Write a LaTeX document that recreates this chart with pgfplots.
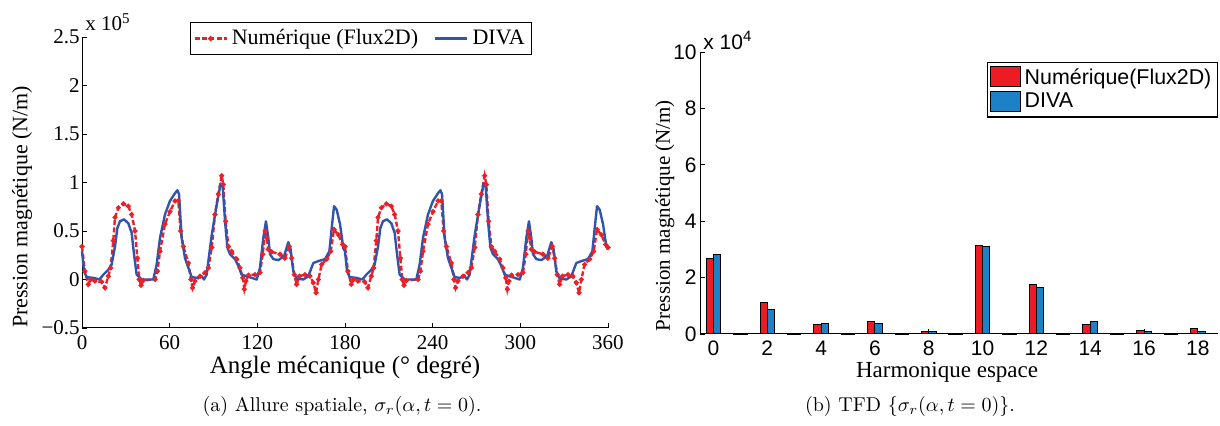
\documentclass[border=0pt]{standalone}
\usepackage{pgfplots}
\pgfplotsset{compat=1.18}
\usepackage{fontspec}
\newfontfamily\tnr{Liberation Serif}
\newfontfamily\ars{Liberation Sans}
\definecolor{numred}{RGB}{235,32,40}
\definecolor{divablue}{RGB}{50,84,170}
\definecolor{barred}{RGB}{237,28,36}
\definecolor{barblue}{RGB}{28,129,199}
\begin{document}
\begin{tikzpicture}
\useasboundingbox (0,0) rectangle (610pt,213pt);
\begin{axis}[
  at={(41pt,49pt)}, anchor=south west,
  scale only axis, width=263pt, height=145.5pt,
  xmin=0, xmax=360, ymin=-0.5, ymax=2.5,
  clip=false,
  axis x line*=bottom, axis y line*=left,
  axis line style={line width=0.5pt},
  tick align=inside, major tick length=2.5pt,
  tick style={black, line width=0.4pt},
  xtick={0,60,...,360},
  ytick={-0.5,0,0.5,1,1.5,2,2.5},
  yticklabels={−0.5,0,0.5,1,1.5,2,2.5},
  /pgf/number format/assume math mode=true,
  ticklabel style={font=\tnr\fontsize{10.5}{12}\selectfont},
  yticklabel style={inner sep=1pt},
  xlabel={Angle mécanique (° degré)},
  ylabel={Pression magnétique (N/m)},
  xlabel style={font=\tnr\fontsize{12.5}{14}\selectfont, at={(axis description cs:0.5,-0.137)}, anchor=center},
  ylabel style={font=\tnr\fontsize{11}{13}\selectfont, at={(axis description cs:-0.114,0.416)}, anchor=center},
  legend columns=2,
  legend style={at={(axis description cs:0.205,1.052)}, anchor=north west,
    font=\tnr\fontsize{11}{13}\selectfont, draw=black, line width=0.6pt,
    inner sep=1.5pt, /tikz/every even column/.append style={column sep=6pt}},
  legend image code/.code={\draw[#1,mark repeat=2,mark phase=2] plot coordinates {(0pt,0pt)(8pt,0pt)(16pt,0pt)};},
]
\addplot[color=numred, line width=1.2pt, dash pattern=on 2.5pt off 1.2pt, mark=*, mark size=0.55pt, mark options={solid}] coordinates {
(0,0.34) (2,0.086) (4.3,-0.05) (5.9,0.0) (8.9,-0.017) (13.5,-0.024) (15.7,-0.086) (18,0.034) (19.6,0.12) (21.4,0.40) (22.6,0.64) (24.9,0.74) (28.3,0.78) (31.7,0.756) (34,0.67) (36.3,0.50) (37.9,0.22) (39.2,0.0) (40.4,-0.06) (42,-0.01) (50,0.0) (51.6,0.086) (53.4,0.29) (56.8,0.57) (60.2,0.70) (63.7,0.81) (65.9,0.81) (67.5,0.50) (69.4,0.34) (72.8,0.17) (74.6,0.0) (75.7,-0.086) (77.3,-0.017) (80.8,0.034) (84.2,0.07) (86.5,0.12) (88.8,0.33) (91,0.67) (93.3,0.88) (95.6,1.07) (96.7,0.98) (98.3,0.60) (100.2,0.34) (102.4,0.29) (105.9,0.21) (108.1,0.12) (110,0.017) (111.1,-0.10) (112.2,-0.017) (113.9,0.045) (118.4,0.05) (121.8,0.07) (123.7,0.26) (125.3,0.50) (126.4,0.43) (127.5,0.31) (129.8,0.285) (135.5,0.26) (138.9,0.22) (141.9,0.34) (143.5,0.22) (145.3,0.05) (146.9,-0.05) (148.8,0.034) (152.6,0.05) (156,0.034) (158.3,-0.034) (160.2,-0.137) (161.8,0.0) (164,0.155) (167.5,0.21) (170.2,0.29) (172.5,0.515) (175.5,0.46) (178.4,0.36)
(180,0.34) (182,0.086) (184.3,-0.05) (185.9,0.0) (188.9,-0.017) (193.5,-0.024) (195.7,-0.086) (198,0.034) (199.6,0.12) (201.4,0.40) (202.6,0.64) (204.9,0.74) (208.3,0.78) (211.7,0.756) (214,0.67) (216.3,0.50) (217.9,0.22) (219.2,0.0) (220.4,-0.06) (222,-0.01) (230,0.0) (231.6,0.086) (233.4,0.29) (236.8,0.57) (240.2,0.70) (243.7,0.81) (245.9,0.81) (247.5,0.50) (249.4,0.34) (252.8,0.17) (254.6,0.0) (255.7,-0.086) (257.3,-0.017) (260.8,0.034) (264.2,0.07) (266.5,0.12) (268.8,0.33) (271,0.67) (273.3,0.88) (275.6,1.07) (276.7,0.98) (278.3,0.60) (280.2,0.34) (282.4,0.29) (285.9,0.21) (288.1,0.12) (290,0.017) (291.1,-0.10) (292.2,-0.017) (293.9,0.045) (298.4,0.05) (301.8,0.07) (303.7,0.26) (305.3,0.50) (306.4,0.43) (307.5,0.31) (309.8,0.285) (315.5,0.26) (318.9,0.22) (321.9,0.34) (323.5,0.22) (325.3,0.05) (326.9,-0.05) (328.8,0.034) (332.6,0.05) (336,0.034) (338.3,-0.034) (340.2,-0.137) (341.8,0.0) (344,0.155) (347.5,0.21) (350.2,0.29) (352.5,0.515) (355.5,0.46) (358.4,0.36) (360,0.33)
};
\addlegendentry{Numérique (Flux2D)}
\addplot[color=divablue, line width=1.2pt, mark=none, line join=round] coordinates {
(0,0.29) (1.4,0.086) (3.2,0.024) (7.8,0.017) (11.9,0.0) (14.6,0.05) (18,0.10) (20.3,0.155) (22.6,0.34) (24.2,0.53) (26,0.60) (28.7,0.62) (31.7,0.58) (34,0.48) (35.6,0.26) (37.4,0.05) (40.8,0.0) (48.8,0.0) (51.1,0.155) (53.4,0.43) (56.8,0.67) (60.2,0.81) (63.7,0.89) (65.3,0.92) (66.4,0.88) (68.2,0.43) (70.5,0.22) (72.8,0.12) (75.1,0.024) (78.5,0.017) (81.9,0.034) (83.5,0.0) (85.3,0.05) (88.8,0.46) (92.2,0.77) (94.9,0.99) (96.3,0.96) (97.9,0.60) (99.5,0.33) (101.3,0.26) (104.7,0.21) (107,0.14) (109.3,0.05) (112.7,0.034) (116.1,0.017) (119.6,0.0) (121.8,0.12) (124.1,0.43) (125.9,0.60) (127.5,0.43) (128.7,0.26) (131,0.21) (134.4,0.20) (138.3,0.24) (141.2,0.385) (142.8,0.31) (144.6,0.086) (146.9,0.01) (151.5,0.0) (154.9,0.034) (158.3,0.17) (161.8,0.19) (166.3,0.21) (169.3,0.29) (170.9,0.53) (172.5,0.756) (174.3,0.72) (176.6,0.57) (178.9,0.32)
(180,0.29) (181.4,0.086) (183.2,0.024) (187.8,0.017) (191.9,0.0) (194.6,0.05) (198,0.10) (200.3,0.155) (202.6,0.34) (204.2,0.53) (206,0.60) (208.7,0.62) (211.7,0.58) (214,0.48) (215.6,0.26) (217.4,0.05) (220.8,0.0) (228.8,0.0) (231.1,0.155) (233.4,0.43) (236.8,0.67) (240.2,0.81) (243.7,0.89) (245.3,0.92) (246.4,0.88) (248.2,0.43) (250.5,0.22) (252.8,0.12) (255.1,0.024) (258.5,0.017) (261.9,0.034) (263.5,0.0) (265.3,0.05) (268.8,0.46) (272.2,0.77) (274.9,0.99) (276.3,0.96) (277.9,0.60) (279.5,0.33) (281.3,0.26) (284.7,0.21) (287,0.14) (289.3,0.05) (292.7,0.034) (296.1,0.017) (299.6,0.0) (301.8,0.12) (304.1,0.43) (305.9,0.60) (307.5,0.43) (308.7,0.26) (311,0.21) (314.4,0.20) (318.3,0.24) (321.2,0.385) (322.8,0.31) (324.6,0.086) (326.9,0.01) (331.5,0.0) (334.9,0.034) (338.3,0.17) (341.8,0.19) (346.3,0.21) (349.3,0.29) (350.9,0.53) (352.5,0.756) (354.3,0.72) (356.6,0.57) (358.9,0.34) (360,0.31)
};
\addlegendentry{DIVA}
\node[anchor=base west, inner sep=0pt, font=\tnr\fontsize{10.5}{12}\selectfont] at (rel axis cs:0,1) [xshift=1.5pt, yshift=3pt] {x 10\raisebox{0.75ex}{\fontsize{7.5}{8}\selectfont 5}};
\end{axis}

\begin{axis}[
  at={(350pt,46pt)}, anchor=south west,
  scale only axis, width=259pt, height=141pt,
  xmin=-0.5, xmax=18.75, ymin=0, ymax=10,
  clip=false,
  axis x line*=bottom, axis y line*=left,
  axis line style={line width=0.5pt},
  tick align=inside, major tick length=2.5pt,
  tick style={black, line width=0.4pt},
  xtick={0,2,...,18},
  ytick={0,2,...,10},
  /pgf/number format/assume math mode=true,
  ticklabel style={font=\ars\fontsize{10.5}{12}\selectfont},
  yticklabel style={inner sep=1.5pt},
  xlabel={Harmonique espace},
  ylabel={Pression magnétique (N/m)},
  xlabel style={font=\tnr\fontsize{11.5}{13}\selectfont, at={(axis description cs:0.477,-0.135)}, anchor=center},
  ylabel style={font=\tnr\fontsize{10.5}{12}\selectfont, at={(axis description cs:-0.068,0.42)}, anchor=center},
  legend style={at={(axis description cs:1,0.965)}, anchor=north east,
    font=\ars\fontsize{10.7}{12}\selectfont, draw=black, line width=0.6pt,
    inner sep=1pt, row sep=-1pt},
  legend cell align=left,
  legend image code/.code={\draw[#1, line width=0.5pt] (0pt,-4.5pt) rectangle (15pt,5.5pt);},
]
\addplot[ybar, bar width=0.27, bar shift=-0.135, fill=barred, draw=black, line width=0.5pt] coordinates {
(0,2.69) (2,1.12) (4,0.32) (6,0.45) (8,0.09) (10,3.15) (12,1.76) (14,0.34) (16,0.14) (18,0.20)
};
\addlegendentry{Numérique(Flux2D)}
\addplot[ybar, bar width=0.27, bar shift=0.135, fill=barblue, draw=black, line width=0.5pt] coordinates {
(0,2.82) (2,0.88) (4,0.38) (6,0.38) (8,0.09) (10,3.11) (12,1.66) (14,0.43) (16,0.09) (18,0.09)
};
\addlegendentry{DIVA}
\addplot[only marks, mark=-, mark size=3.6pt, mark options={black, line width=1.2pt}, forget plot] coordinates {
(1,0) (3,0) (5,0) (7,0) (9,0) (11,0) (13,0) (15,0) (17,0)
};
\node[anchor=base west, inner sep=0pt, font=\ars\fontsize{10.5}{12}\selectfont] at (rel axis cs:0,1) [xshift=1.5pt, yshift=1pt] {x 10\raisebox{0.75ex}{\fontsize{7.5}{8}\selectfont 4}};
\end{axis}

\node[font=\fontsize{10}{12}\selectfont] at (171pt,9.5pt) {(a) Allure spatiale, $\sigma_r(\alpha,t=0)$.};
\node[font=\fontsize{10}{12}\selectfont] at (455pt,9.5pt) {(b) TFD $\{\sigma_r(\alpha,t=0)\}$.};
\end{tikzpicture}
\end{document}
